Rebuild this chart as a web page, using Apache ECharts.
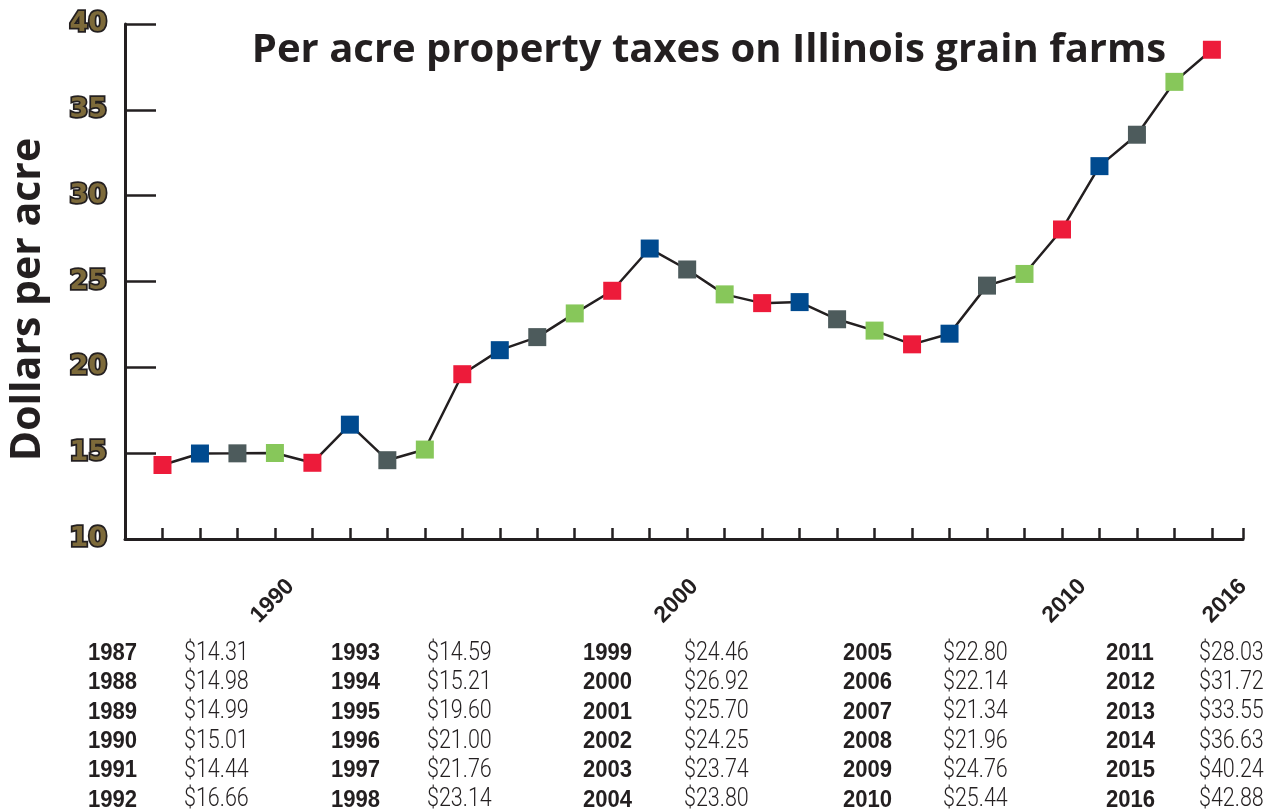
<!DOCTYPE html>
<html>
<head>
<meta charset="utf-8">
<script src="https://cdn.jsdelivr.net/npm/echarts@6/dist/echarts.min.js"></script>
<style>html,body{margin:0;padding:0;background:#fff;}#main{width:1280px;height:809px;}</style>
</head>
<body>
<div id="main"></div>
<script>
// ---- data ----
var years  = [1987,1988,1989,1990,1991,1992,1993,1994,1995,1996,1997,1998,1999,2000,2001,2002,2003,2004,2005,2006,2007,2008,2009,2010,2011,2012,2013,2014,2015];
var values = [14.31,14.98,14.99,15.01,14.44,16.66,14.59,15.21,19.60,21.00,21.76,23.14,24.46,26.92,25.70,24.25,23.74,23.80,22.80,22.14,21.34,21.96,24.76,25.44,28.03,31.72,33.55,36.63,38.50];
var markerColors = ['#ed1b3a','#004a8f','#4d5b5c','#87c75a'];
var xTickLabels = ['1990','2000','2010','2016'];
var xTickLabelAt = [1990.42, 2001.2, 2011.55, 2015.83];
var yTicks = [10,15,20,25,30,35,40];

// table below the chart
var tableYears  = ['1987','1988','1989','1990','1991','1992','1993','1994','1995','1996','1997','1998','1999','2000','2001','2002','2003','2004','2005','2006','2007','2008','2009','2010','2011','2012','2013','2014','2015','2016'];
var tableValues = ['$14.31','$14.98','$14.99','$15.01','$14.44','$16.66','$14.59','$15.21','$19.60','$21.00','$21.76','$23.14','$24.46','$26.92','$25.70','$24.25','$23.74','$23.80','$22.80','$22.14','$21.34','$21.96','$24.76','$25.44','$28.03','$31.72','$33.55','$36.63','$40.24','$42.88'];

var INK = '#231f20';
var seriesData = years.map(function (y, i) { return [y, values[i]]; });

var yearColX = [88, 331, 583, 843, 1106];
var valColX  = [184, 427, 684, 943, 1199];
var graphics = [];
tableYears.forEach(function (t, i) {
  var col = Math.floor(i / 6), row = i % 6;
  var cy = 653.5 + row * 29.3;
  graphics.push({ type: 'text', x: yearColX[col], y: cy, scaleX: 0.92,
    style: { text: t, fill: INK, fontFamily: '"Liberation Sans",Arial,sans-serif', fontWeight: 'bold', fontSize: 24, verticalAlign: 'middle' } });
  graphics.push({ type: 'text', x: valColX[col], y: cy, scaleX: 0.86,
    style: { text: tableValues[i], fill: INK, fontFamily: 'Roboto,"Liberation Sans",sans-serif', fontWeight: 300, fontSize: 25, verticalAlign: 'middle' } });
});

var chart = echarts.init(document.getElementById('main'));
chart.setOption({
  animation: false,
  backgroundColor: '#fff',
  title: {
    text: 'Per acre property taxes on Illinois grain farms',
    left: 704, top: 26, textAlign: 'center',
    textStyle: { fontFamily: '"Open Sans",sans-serif', fontWeight: 'bold', fontSize: 40, color: INK }
  },
  grid: { left: 125, right: 37, top: 24, bottom: 270, containLabel: false },
  xAxis: {
    type: 'value', min: 1986, max: 2015.83, interval: 1,
    axisLine: { show: true, lineStyle: { color: INK, width: 3 } },
    axisTick: { show: true, inside: true, length: 11, lineStyle: { color: INK, width: 2.5 } },
    splitLine: { show: false },
    axisLabel: {
      customValues: xTickLabelAt,
      rotate: 45, margin: 44,
      formatter: function (v) {
        var best = 0;
        for (var k = 1; k < xTickLabelAt.length; k++) {
          if (Math.abs(xTickLabelAt[k] - v) < Math.abs(xTickLabelAt[best] - v)) best = k;
        }
        return xTickLabels[best];
      },
      color: INK, fontFamily: '"Liberation Sans",Arial,sans-serif', fontWeight: 'bold', fontSize: 23
    }
  },
  yAxis: {
    type: 'value', min: 10, max: 40, interval: 5,
    name: 'Dollars per acre', nameLocation: 'middle', nameRotate: 90, nameGap: 76,
    nameTextStyle: { fontFamily: '"Open Sans",sans-serif', fontWeight: 'bold', fontSize: 41, color: INK, padding: [0, 36, 0, 0] },
    axisLine: { show: true, lineStyle: { color: INK, width: 3 } },
    axisTick: { show: true, inside: true, length: 31, lineStyle: { color: INK, width: 2.5 } },
    splitLine: { show: false },
    axisLabel: {
      margin: 18,
      customValues: yTicks,
      fontFamily: '"DejaVu Sans",sans-serif', fontWeight: 'bold', fontSize: 27,
      color: '#7d6a3a', textBorderColor: INK, textBorderWidth: 3.5
    }
  },
  graphic: graphics,
  series: [{
    type: 'line',
    data: seriesData,
    symbol: 'rect', symbolSize: 18,
    lineStyle: { color: INK, width: 2.5 },
    itemStyle: { color: function (p) { return markerColors[p.dataIndex % markerColors.length]; } },
    z: 3
  }]
});
</script>
</body>
</html>
